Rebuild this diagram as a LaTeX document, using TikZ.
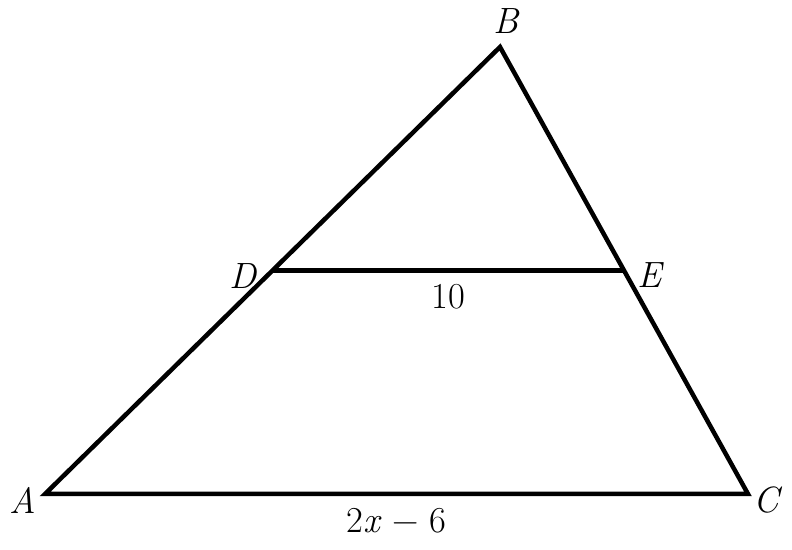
\documentclass[tikz,border=0pt]{standalone}
\usetikzlibrary{calc}
\begin{document}
\begin{tikzpicture}[line width=3.2pt, font=\fontsize{26}{30}\selectfont]
  \useasboundingbox (0, 0) rectangle (19.8, 13.75);
  \coordinate (A) at (1.125, 1.4);
  \coordinate (B) at (12.5, 12.575);
  \coordinate (C) at (18.7, 1.4);
  \coordinate (D) at ($(A)!0.5!(B)$);
  \coordinate (E) at ($(C)!0.5!(B)$);
  \draw[line join=miter] (A) -- (B) -- (C) -- cycle;
  \draw (D) -- (E);
  \node (lA) at ($(A)+(-0.55,-0.15)$) {\itshape A};
  \node (lB) at ($(B)+(0.15,0.65)$) {\itshape B};
  \node (lC) at ($(C)+(0.45,-0.15)$) {\itshape C};
  \node (lD) at ($(D)+(-0.75,-0.15)$) {\itshape D};
  \node (lE) at ($(E)+(0.65,-0.12)$) {\itshape E};
  \node (lDE) at ($(D)!0.5!(E)+(0,-0.65)$) {10};
  \node (lAC) at ($(A)!0.5!(C)+(0,-0.68)$) {2\textit{x} − 6};
\end{tikzpicture}
\end{document}
